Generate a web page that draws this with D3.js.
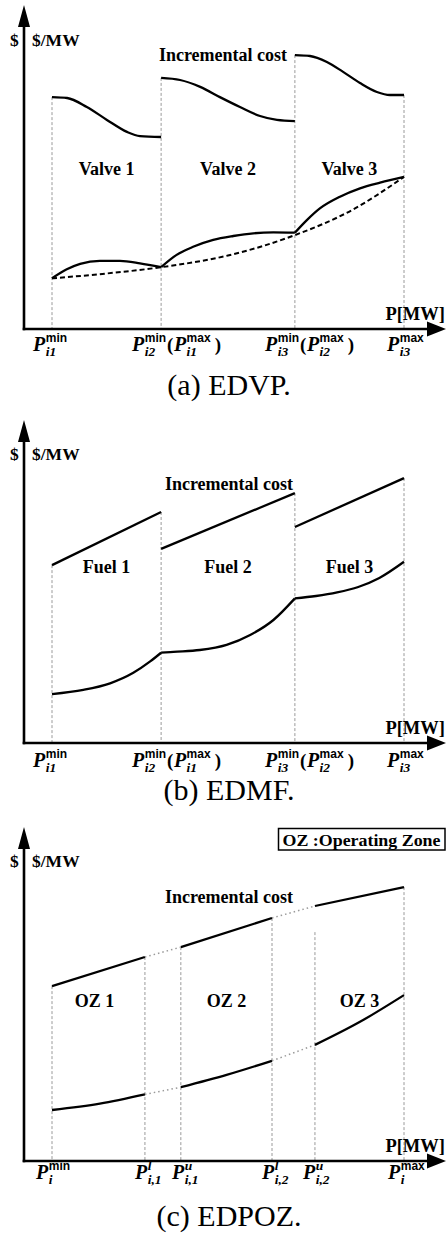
<!DOCTYPE html>
<html><head><meta charset="utf-8">
<script src="https://cdn.jsdelivr.net/npm/d3@7/dist/d3.min.js"></script>
<style>html,body{margin:0;padding:0;background:#fff}svg{display:block}</style>
</head><body>
<script>
// ---------- data (x in normalised MW units 0..100, y in cost units 0..100) ----------
const breaksA = [0, 31, 69, 100];
const breaksB = [0, 31, 69, 100];
const breaksC = [0, 26.4, 36.6, 62.5, 74.7, 100];
const guideTopA = [77.3, 83.7, 91.3, 78];
const guideTopB = [59.3, 77, 83.3, 88.3];
const guideTopC = [58.3, 68, 71.3, 81, 76.3, 91.3];

const zoneLabelsA = ["Valve 1", "Valve 2", "Valve 3"];
const zoneLabelsB = ["Fuel 1", "Fuel 2", "Fuel 3"];
const zoneLabelsC = ["OZ 1", "OZ 2", "OZ 3"];
const captions = ["(a) EDVP.", "(b) EDMF.", "(c) EDPOZ."];

// tick labels: each label is a list of [subscript, superscript]; 2 parts => P(P)
const ticksA = [[["i1","min"]], [["i2","min"],["i1","max"]], [["i3","min"],["i2","max"]], [["i3","max"]]];
const ticksB = [[["i1","min"]], [["i2","min"],["i1","max"]], [["i3","min"],["i2","max"]], [["i3","max"]]];
const ticksC = [[["i","min"]], [["i,1","l"]], [["i,1","u"]], [["i,2","l"]], [["i,2","u"]], [["i","max"]]];

// (a) EDVP
const edvpInc1 = [[0,77.3],[4.3,77],[9.9,74],[15.6,69.7],[21.3,65.7],[25,64.3],[31,64]];
const edvpInc2 = [[31,83.7],[36.4,83],[42.1,80.7],[47.7,77.3],[53.4,74],[59.1,71],[63.9,69.7],[69,69.3]];
const edvpInc3 = [[69,91.3],[73.3,91],[78.1,89],[82.7,85.7],[87.5,82],[92.3,79],[96,78],[100,78]];
const edvpCost1 = [[0,16.9],[4.2,19.9],[8,21.7],[13.6,22.7],[19.3,22.7],[25,21.9],[31,20.6]];
const edvpCost2 = [[31,20.6],[35.4,24.7],[40.1,27.4],[45.8,29.7],[51.5,31],[57.2,31.9],[62.9,32.2],[69,32.1]];
const edvpCost3 = [[69,32.1],[72.4,36.3],[76.1,40.2],[81.8,44.1],[87.5,46.9],[93.2,48.8],[100,50.7]];
const edvpConvex = [[0,16.9],[15.5,18.5],[31,20.6],[50,24.5],[69,31.3],[85,39.5],[100,50.7]];

// (b) EDMF
const edmfInc1 = [[0,59.3],[31,77]];
const edmfInc2 = [[31,64.7],[69,83.3]];
const edmfInc3 = [[69,72],[100,88.3]];
const edmfCost1 = [[0,16.3],[8.9,17.7],[16.5,19.9],[23.1,23.4],[27.8,27.1],[31,30.1]];
const edmfCost2 = [[31,30.1],[34.5,30.4],[42,31],[49.6,32.7],[56.3,36],[62.9,41],[69,48.2]];
const edmfCost3 = [[69,48.2],[75,49],[81,50.2],[87,52],[93,55],[100,60.4]];

// (c) EDPOZ
const edpozInc = [[[0,58.3],[26.4,68]], [[36.6,71.3],[62.5,81]], [[74.7,85],[100,91.3]]];
const edpozIncGap = [[[26.4,68],[36.6,71.3]], [[62.5,81],[74.7,85]]];
const edpozCost = [[[0,17],[13.6,19.1],[26.4,22.2]], [[36.6,24.6],[49.6,28.7],[62.5,33.4]], [[74.7,38.7],[87.5,46.4],[100,55.3]]];
const edpozCostGap = [[[26.4,22.2],[36.6,24.6]], [[62.5,33.4],[74.7,38.7]]];

const zoneLabelY = [51.3, 56.7, 51.3];

// ---------- layout ----------
const W = 446, H = 1238;
const svg = d3.select("body").append("svg").attr("width", W).attr("height", H);
const SERIF = "'Liberation Serif','Times New Roman',serif";
const SANS = "'Liberation Sans',Arial,sans-serif";
const x = d3.scaleLinear().domain([0,100]).range([52,404]);

const panels = [
  {axisY:329, arrowTop:5,   unitY:46,  incX:223, incY:61,  tickY:351, capY:395, breaks:breaksA, tops:guideTopA, zones:zoneLabelsA, ticks:ticksA,
   tickX:[33,132,265,387]},
  {axisY:743, arrowTop:420, unitY:460, incX:229, incY:490, tickY:767, capY:800, breaks:breaksB, tops:guideTopB, zones:zoneLabelsB, ticks:ticksB,
   tickX:[33,132,265,387]},
  {axisY:1161,arrowTop:827, unitY:867, incX:229, incY:903, tickY:1179, capY:1226, breaks:breaksC, tops:guideTopC, zones:zoneLabelsC, ticks:ticksC,
   tickX:[36,135,172,262,303,388]}
];

function tickLabel(g, x0, yb, parts) {
  let cx = x0;
  parts.forEach((p, i) => {
    if (i > 0) {
      const t = g.append("text").attr("x", cx).attr("y", yb).attr("font-family", SERIF)
        .attr("font-weight", "bold").attr("font-size", 19).text("(");
      cx += t.node().getComputedTextLength() + 0.5;
    }
    const P = g.append("text").attr("x", cx).attr("y", yb).attr("font-family", SERIF)
      .attr("font-weight", "bold").attr("font-style", "italic").attr("font-size", 20).text("P");
    cx += P.node().getComputedTextLength() + 0.5;
    const sb = g.append("text").attr("x", cx).attr("y", yb + 5).attr("font-family", SERIF)
      .attr("font-weight", "bold").attr("font-style", "italic").attr("font-size", 13.5).text(p[0]);
    const isWord = p[1].length > 1;
    const sp = g.append("text").attr("x", cx).attr("y", yb - 9.5)
      .attr("font-family", isWord ? SANS : SERIF).attr("font-weight", "bold")
      .attr("font-style", isWord ? "normal" : "italic")
      .attr("font-size", isWord ? 12 : 13.5).text(p[1]);
    cx += Math.max(sb.node().getComputedTextLength(), sp.node().getComputedTextLength()) + 1;
    if (i > 0) {
      g.append("text").attr("x", cx + 3).attr("y", yb).attr("font-family", SERIF)
        .attr("font-weight", "bold").attr("font-size", 19).text(")");
    }
  });
}

panels.forEach((pn, pi) => {
  const g = svg.append("g");
  const y = d3.scaleLinear().domain([0,100]).range([pn.axisY, pn.axisY - 300]);
  const line = d3.line().x(d => x(d[0])).y(d => y(d[1])).curve(d3.curveMonotoneX);

  // guide lines
  g.selectAll(".guide").data(pn.breaks).join("line")
    .attr("x1", d => x(d)).attr("x2", d => x(d))
    .attr("y1", (d, i) => y(pn.tops[i])).attr("y2", pn.axisY)
    .attr("stroke", "#9a9a9a").attr("stroke-width", 1).attr("stroke-dasharray", "3,2");

  // axes
  g.append("line").attr("x1", 24).attr("x2", 24).attr("y1", pn.axisY + 1.3).attr("y2", pn.arrowTop + 18)
    .attr("stroke", "#000").attr("stroke-width", 2.6);
  g.append("path").attr("d", `M18,${pn.arrowTop+22}L24,${pn.arrowTop}L30,${pn.arrowTop+22}Z`).attr("fill", "#000");
  g.append("line").attr("x1", 22.7).attr("x2", 432).attr("y1", pn.axisY).attr("y2", pn.axisY)
    .attr("stroke", "#000").attr("stroke-width", 2.6);
  g.append("path").attr("d", `M427,${pn.axisY-7.5}L446,${pn.axisY}L427,${pn.axisY+7.5}Z`).attr("fill", "#000");

  // axis titles
  g.append("text").attr("x", 10).attr("y", pn.unitY).attr("font-family", SERIF).attr("font-weight", "bold")
    .attr("font-size", 17.5).text("$");
  g.append("text").attr("x", 32).attr("y", pn.unitY).attr("font-family", SERIF).attr("font-weight", "bold")
    .attr("font-size", 17.5).text("$/MW");
  g.append("text").attr("x", 445).attr("y", pn.axisY - 9).attr("text-anchor", "end").attr("font-family", SERIF)
    .attr("font-weight", "bold").attr("font-size", 18.5).text("P[MW]");
  g.append("text").attr("x", pn.incX).attr("y", pn.incY).attr("text-anchor", "middle").attr("font-family", SERIF)
    .attr("font-weight", "bold").attr("font-size", 18).text("Incremental cost");

  // zone labels
  const zb = pi === 2 ? [[breaksC[0],breaksC[1]],[breaksC[2],breaksC[3]],[breaksC[4],breaksC[5]]]
                      : [[pn.breaks[0],pn.breaks[1]],[pn.breaks[1],pn.breaks[2]],[pn.breaks[2],pn.breaks[3]]];
  g.selectAll(".zone").data(pn.zones).join("text")
    .attr("x", (d, i) => x((zb[i][0] + zb[i][1]) / 2) - (pi === 2 && i === 0 ? 4 : 0)).attr("y", y(zoneLabelY[pi]))
    .attr("text-anchor", "middle").attr("font-family", SERIF).attr("font-weight", "bold").attr("font-size", 18)
    .text(d => d);

  // tick labels
  pn.ticks.forEach((t, i) => tickLabel(g, pn.tickX[i], pn.tickY, t));

  // caption
  g.append("text").attr("x", 229).attr("y", pn.capY).attr("text-anchor", "middle").attr("font-family", SERIF)
    .attr("font-size", 30).text(captions[pi]);

  const solid = (data) => g.append("path").attr("d", line(data)).attr("fill", "none")
    .attr("stroke", "#000").attr("stroke-width", 2.3).attr("stroke-linejoin", "round");
  const gap = (data) => g.append("path").attr("d", line(data)).attr("fill", "none")
    .attr("stroke", "#9a9a9a").attr("stroke-width", 1.5).attr("stroke-dasharray", "1.5,3");

  if (pi === 0) {
    [edvpInc1, edvpInc2, edvpInc3, edvpCost1, edvpCost2, edvpCost3].forEach(solid);
    g.append("path").attr("d", line(edvpConvex)).attr("fill", "none").attr("stroke", "#000")
      .attr("stroke-width", 2).attr("stroke-dasharray", "5,3");
  } else if (pi === 1) {
    [edmfInc1, edmfInc2, edmfInc3, edmfCost1, edmfCost2, edmfCost3].forEach(solid);
  } else {
    edpozInc.forEach(solid); edpozCost.forEach(solid);
    edpozIncGap.forEach(gap); edpozCostGap.forEach(gap);
    // legend box
    const lg = g.append("g");
    lg.append("rect").attr("x", 278.5).attr("y", 828.5).attr("width", 166.5).attr("height", 21.5)
      .attr("fill", "#fff").attr("stroke", "#000").attr("stroke-width", 1.5);
    lg.append("text").attr("x", 361.5).attr("y", 845.5).attr("text-anchor", "middle").attr("font-family", SERIF)
      .attr("font-weight", "bold").attr("font-size", 17.5).attr("textLength", 158).attr("lengthAdjust", "spacingAndGlyphs")
      .text("OZ :Operating Zone");
  }
});
</script>
</body></html>
